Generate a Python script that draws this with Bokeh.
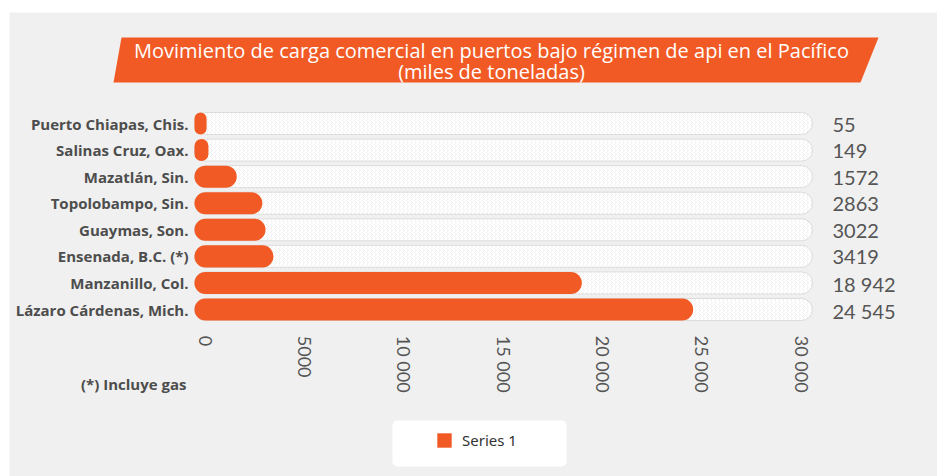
from bokeh.plotting import figure
from bokeh.models import (Range1d, FixedTicker, Legend, LegendItem, ColumnDataSource,
                          PolyAnnotation, Label, BoxAnnotation)
from bokeh.models.glyphs import HBar
from bokeh.core.properties import value
from bokeh.embed import file_html
from bokeh.resources import INLINE

# ---------------- data ----------------
ports = ["Puerto Chiapas, Chis.", "Salinas Cruz, Oax.", "Mazatlán, Sin.",
         "Topolobampo, Sin.", "Guaymas, Son.", "Ensenada, B.C. (*)",
         "Manzanillo, Col.", "Lázaro Cárdenas, Mich."]
cargo = [55, 149, 1572, 2863, 3022, 3419, 18942, 24545]
ticks = [0, 5000, 10000, 15000, 20000, 25000, 30000]
series_name = "Series 1"
title_line1 = "Movimiento de carga comercial en puertos bajo régimen de api en el Pacífico"
title_line2 = "(miles de toneladas)"
footnote = "(*) Incluye gas"


def fmt(v):
    s = str(int(v))
    if len(s) <= 4:
        return s
    out = ""
    while len(s) > 3:
        out = " " + s[-3:] + out
        s = s[:-3]
    return s + out


ORANGE = "#f15a24"
BG = "#f0f0f0"
TXT = "#555555"
LBL = "#4d4d4d"
W, H = 928, 464
x_max = ticks[-1]
n = len(ports)
rows = [n - 1 - i for i in range(n)]          # first port on top
has_r = "border_radius" in HBar.properties()
rad = lambda r: dict(border_radius=r) if has_r else {}

src = ColumnDataSource(dict(
    row=rows, cargo=cargo, label=[fmt(v) for v in cargo],
    left=[-x_max * 0.0185] * n, track=[x_max * 1.0183] * n))

p = figure(width=W, height=H, output_backend="svg", toolbar_location=None,
           x_range=Range1d(-x_max * 0.3288, x_max * 1.228),
           y_range=Range1d(-6.285, n - 1 + 4.178),
           min_border=0)
p.margin = (12, 0, 0, 9)
p.background_fill_color = BG
p.border_fill_color = BG
p.outline_line_color = None
p.grid.visible = False

# tracks and bars
p.hbar(y="row", left="left", right="track", height=0.83, source=src,
       fill_color="white", line_color="#dcdcdc", line_width=1,
       hatch_pattern=">", hatch_color="#e2e2e2", hatch_scale=4, hatch_weight=0.6,
       **rad(11))
p.hbar(y="row", left="left", right="cargo", height=0.83, source=src,
       fill_color=ORANGE, line_color=None, **rad(11))
p.text(x="track", y="row", text="label", source=src, x_offset=20, y_offset=1,
       text_baseline="middle", text_align="left", text_font=value("Lato"),
       text_font_size="20px", text_color=TXT)

# category axis (left), placed at the bars' left edge
ya = p.yaxis[0]
ya.fixed_location = -x_max * 0.0218
ya.ticker = FixedTicker(ticks=rows)
ya.major_label_overrides = {r: name for r, name in zip(rows, ports)}
ya.axis_line_color = None
ya.major_tick_line_color = None
ya.minor_tick_line_color = None
ya.major_tick_out = 0
ya.major_tick_in = 0
ya.major_label_standoff = 4
ya.major_label_text_font = "Open Sans"
ya.major_label_text_font_style = "bold"
ya.major_label_text_font_size = "15px"
ya.major_label_text_color = LBL

# value axis (below), placed under the last bar
xa = p.xaxis[0]
xa.fixed_location = -0.5
xa.ticker = FixedTicker(ticks=ticks)
xa.major_label_overrides = {t: fmt(t) for t in ticks}
xa.major_label_orientation = "vertical"
xa.axis_line_color = None
xa.major_tick_line_color = None
xa.minor_tick_line_color = None
xa.major_tick_out = 0
xa.major_tick_in = 0
xa.major_label_standoff = 13
xa.major_label_text_font = "Lato"
xa.major_label_text_font_size = "18px"
xa.major_label_text_color = TXT

# title banner (screen px, origin bottom-left of the frame)
p.add_layout(PolyAnnotation(xs=[112, 869, 851, 104], ys=[H - 25, H - 25, H - 70, H - 70],
                            xs_units="screen", ys_units="screen",
                            fill_color=ORANGE, fill_alpha=1, line_color=None))
for txt, yy in [(title_line1, 38), (title_line2, 59)]:
    p.add_layout(Label(x=482, y=H - yy, x_units="screen", y_units="screen", text=txt,
                       text_align="center", text_baseline="middle", text_color="white",
                       text_font="Open Sans", text_font_size="20px"))

p.add_layout(Label(x=177, y=H - 371, x_units="screen", y_units="screen", text=footnote,
                   text_align="right", text_baseline="middle", text_color=LBL,
                   text_font="Open Sans", text_font_style="bold", text_font_size="15px"))

# legend
bx = dict(border_radius=5) if "border_radius" in BoxAnnotation.properties() else {}
p.add_layout(BoxAnnotation(left=383, right=557, top=H - 408, bottom=H - 454,
                           left_units="screen", right_units="screen",
                           top_units="screen", bottom_units="screen",
                           fill_color="white", fill_alpha=1, line_color=None, **bx))
# legend swatch: same series style, zero-length so it adds nothing to the plot
swatch = p.hbar(y=rows[-1:], left=[0], right=[0], height=0.83, fill_color=ORANGE,
                line_color=None, **rad(3))
legend = Legend(items=[LegendItem(label=series_name, renderers=[swatch])],
                location=(426, 26), padding=0, margin=0,
                background_fill_alpha=0, border_line_color=None,
                glyph_width=18, glyph_height=18, label_standoff=9,
                label_text_font="Noto Sans", label_text_font_size="15px",
                label_text_color="#333333")
p.add_layout(legend, "center")

open("out.html", "w").write(file_html(p, INLINE))
